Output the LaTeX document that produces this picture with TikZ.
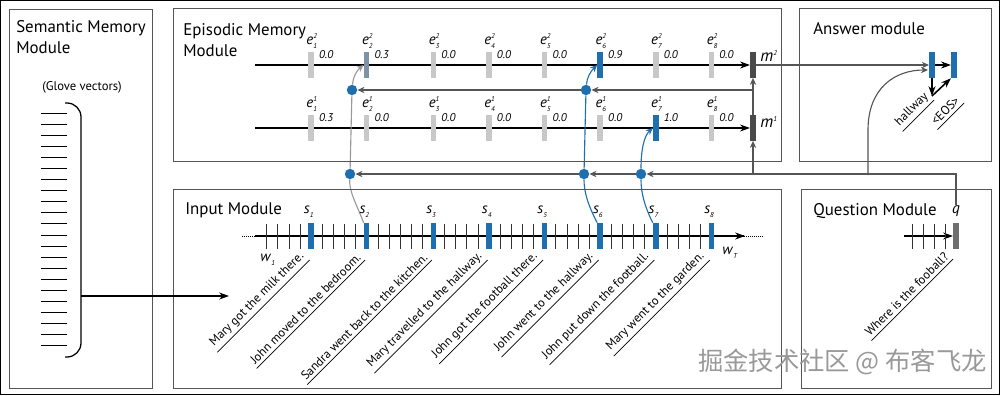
\documentclass[tikz,border=0pt]{standalone}
\usepackage{amsmath}
\usepackage{fontspec}
\setmainfont{PT Sans}
\newfontfamily\cjk{Noto Sans CJK SC}
\usepackage{xcolor}
\usepackage{tikz}
\usetikzlibrary{arrows.meta}
\usetikzlibrary{backgrounds}

\definecolor{dmnblue}{HTML}{1E6FAF}
\definecolor{barg}{HTML}{C8C8C8}
\definecolor{bardark}{HTML}{4A4A4A}
\definecolor{lineg}{HTML}{555555}
\definecolor{mixbar}{HTML}{7E93A6}

\newcommand{\idx}[3]{\textit{#1}$^{\text{\tiny\itshape #2}}_{\text{\tiny\itshape #3}}$}

\begin{document}
\begin{tikzpicture}[x=0.025cm, y=-0.025cm,
  modbox/.style={draw=lineg, line width=0.7pt},
  modtitle/.style={anchor=north west, inner sep=0pt, align=left, font=\fontsize{12}{15}\selectfont},
  vbar/.style={rectangle, inner sep=0pt, minimum width=0.14cm, minimum height=0.63cm, fill=#1}, vbar/.default=barg,
  wtick/.style={draw=black!80, line width=0.4pt},
  attdot/.style={circle, inner sep=0pt, minimum size=0.26cm, fill=dmnblue},
  score/.style={inner sep=0pt, font=\fontsize{8}{9}\selectfont\itshape},
  symlab/.style={inner sep=0pt, font=\fontsize{10.5}{11}\selectfont},
  sentence/.style={rotate=45, anchor=south east, inner xsep=1pt, inner ysep=2.2pt, font=\fontsize{8.8}{9}\selectfont},
  gline/.style={draw=lineg, line width=0.8pt},
  gtip/.style={-{Stealth[length=5pt,width=4.5pt]}},
  blk/.style={line width=0.9pt, -{Stealth[length=7pt,width=5pt]}}]
  \useasboundingbox (0,0) rectangle (1000,395);
  \draw[line width=1pt] (0.7,0.7) rectangle (999.3,394.3);

  % module boxes
  \draw[modbox] (9,9) rectangle (152,388);
  \draw[modbox] (173,8) rectangle (781,161);
  \draw[modbox] (799,8) rectangle (991,161);
  \draw[modbox] (173,189) rectangle (781,388);
  \draw[modbox] (801,189) rectangle (991,388);
  \node[modtitle] (tsem) at (16,20) {Semantic Memory\\Module};
  \node[modtitle] (tepi) at (183,23) {Episodic Memory\\Module};
  \node[modtitle] (tans) at (813,22) {Answer module};
  \node[modtitle] (tinp) at (185,202) {Input Module};
  \node[modtitle] (tque) at (813,203) {Question Module};

  % semantic memory
  \node[inner sep=0pt, font=\fontsize{9}{10}\selectfont] (glove) at (82,87) {(Glove vectors)};
  \foreach \i in {0,...,21}
    \draw[line width=0.7pt] (41,{113+11.09*\i}) -- (67,{113+11.09*\i});
  \draw[line width=0.9pt, rounded corners=0.35cm] (65,103) -| (81,230) |- (65,357);
  \coordinate (sv) at (81,296);
  \coordinate (iv) at (229,296);
  \draw[blk] (sv) -- (iv);

  % input module
  \coordinate (ws) at (255,236);
  \coordinate (wsd) at (242,236);
  \coordinate (we) at (744,236);
  \coordinate (wed) at (763,236);
  \foreach \k in {0,...,39}
    \draw[wtick] ({266.6+11.12*\k},224) -- ({266.6+11.12*\k},249);
  \foreach \k/\txt [count=\i] in {4/Mary got the milk there., 9/John moved to the bedroom.,
      15/Sandra went back to the kitchen., 20/Mary travelled to the hallway.,
      25/John got the football there., 30/John went to the hallway.,
      35/John put down the football., 40/Mary went to the garden.}{
    \node[vbar=dmnblue, minimum height=0.65cm] (s\i) at ({266.6+11.12*\k},236) {};
    \node[symlab] (ls\i) at ({266.6+11.12*\k-2},212) {\idx{s}{}{\i}};
    \node[sentence] (t\i) at ({266.6+11.12*\k-1.5},260) {\txt};
    \draw[line width=0.5pt] (t\i.south west) -- (t\i.south east);
  }
  \node[symlab] (w1) at (268,260) {\idx{w}{}{1}};
  \node[symlab] (wT) at (730,253) {\idx{w}{}{T}};

  % episodic memory
  \foreach \k/\v/\c [count=\i] in {4/0.0/barg, 9/0.3/mixbar, 15/0.0/barg, 20/0.0/barg,
      25/0.0/barg, 30/0.9/dmnblue, 35/0.0/barg, 40/0.0/barg}{
    \node[vbar=\c] (e2-\i) at ({266.6+11.12*\k},65) {};
    \node[symlab] (le2-\i) at ({266.6+11.12*\k+1},41) {\idx{e}{2}{\i}};
    \node[score] (v2-\i) at ({266.6+11.12*\k+15},55) {\v};
  }
  \foreach \k/\v/\c [count=\i] in {4/0.3/barg, 9/0.0/barg, 15/0.0/barg, 20/0.0/barg,
      25/0.0/barg, 30/0.0/barg, 35/1.0/dmnblue, 40/0.0/barg}{
    \node[vbar=\c] (e1-\i) at ({266.6+11.12*\k},128) {};
    \node[symlab] (le1-\i) at ({266.6+11.12*\k+1},104) {\idx{e}{1}{\i}};
    \node[score] (v1-\i) at ({266.6+11.12*\k+15},118) {\v};
  }
  \node[vbar=bardark] (m2) at (753,65) {};
  \node[vbar=bardark] (m1) at (753,128) {};
  \node[symlab, font=\fontsize{12}{13}\selectfont] (lm2) at (769,56) {\textit{m}$^{\text{\tiny\itshape 2}}$};
  \node[symlab, font=\fontsize{12}{13}\selectfont] (lm1) at (769,122) {\textit{m}$^{\text{\tiny\itshape 1}}$};
  \coordinate (r2) at (255,65);
  \coordinate (r1) at (255,128);
  \coordinate (j2) at (753,90);
  \coordinate (j1) at (753,175);

  \node[attdot] (du2) at (352,90) {};
  \node[attdot] (du6) at (586,90) {};
  \node[attdot] (dl2) at (350,174) {};
  \node[attdot] (dl6) at (584,174) {};
  \node[attdot] (dl7) at (641,174) {};

  % question module
  \coordinate (qs) at (904,236);
  \foreach \x in {912,923,934,945}
    \draw[wtick] (\x,224) -- (\x,249);
  \node[vbar=bardark!80, minimum height=0.65cm] (qv) at (956,236) {};
  \node[symlab, font=\fontsize{11}{12}\selectfont\itshape] (q) at (956,211) {q};
  \node[sentence] (tq) at (953,259) {Where is the fooball?};
  \draw[line width=0.5pt] (tq.south west) -- (tq.south east);
  \coordinate (qc) at (957,175);
  \coordinate (aj) at (868,175);

  % answer module
  \node[vbar=dmnblue, minimum height=0.65cm] (a1) at (932,65) {};
  \node[vbar=dmnblue, minimum height=0.65cm] (a2) at (954,65) {};
  \coordinate (hw) at (932,96);
  \coordinate (a1in) at (928,70);
  \node[sentence] (thw) at (934,100) {hallway};
  \draw[line width=0.5pt] (thw.south west) -- (thw.south east);
  \node[sentence] (teos) at (964,103) {<EOS>};
  \draw[line width=0.5pt] (teos.south west) -- (teos.south east);
  \draw[blk, line width=1.1pt] (a1.east) -- (a2.west);
  \draw[blk, line width=1.1pt] (a1.south) -- (hw);
  \draw[blk, line width=1.1pt] (hw) -- (a2.south west);

  \node[anchor=east, inner sep=0pt, text=black!40, font=\cjk\fontsize{18}{20}\selectfont] (wm) at (987,362) {掘金技术社区 @ 布客飞龙};

  \begin{scope}[on background layer]
    \draw[line width=0.9pt] (ws) -- (we);
    \draw[-{Stealth[length=7pt,width=5pt]}, line width=0.9pt] (we) -- ++(1,0);
    \draw[densely dotted] (wsd) -- (ws);
    \draw[densely dotted] (we) -- (wed);
    \draw[blk] (r2) -- (m2.west);
    \draw[blk] (r1) -- (m1.west);
    \draw[blk, line width=0.8pt] (qs) -- (qv.west);
    \draw[gline, gtip] (j1) -- (m1.south);
    \draw[gline, gtip] (m1.north) -- (m2.south);
    \draw[gline, gtip] (j2) -- (du6);
    \draw[gline, gtip] (du6) -- (du2);
    \draw[gline, gtip] (q.north) |- (dl7);
    \draw[gline, gtip] (dl7) -- (dl6);
    \draw[gline, gtip] (dl6) -- (dl2);
    \draw[gline, gtip] (m2.east) -- (a1.west);
    \draw[gline, gtip] (aj) -- (868,130) .. controls (868,88) and (895,70) .. (a1in);
    \draw[draw=black!40, line width=0.8pt, gtip] (s2.north west) .. controls (357,205) and (349,192) .. (dl2) -- (du2) .. controls (353,78) and (356,71) .. (e2-2.west);
    \draw[draw=dmnblue, line width=0.8pt, gtip] (s6.north west) .. controls (588,205) and (584,192) .. (dl6) -- (du6) .. controls (587,78) and (590,72) .. (e2-6.west);
    \draw[draw=dmnblue, line width=0.8pt, gtip] (s7.north west) .. controls (644,205) and (641,192) .. (dl7) .. controls (641,150) and (644,136) .. (e1-7.west);
  \end{scope}
\end{tikzpicture}
\end{document}
